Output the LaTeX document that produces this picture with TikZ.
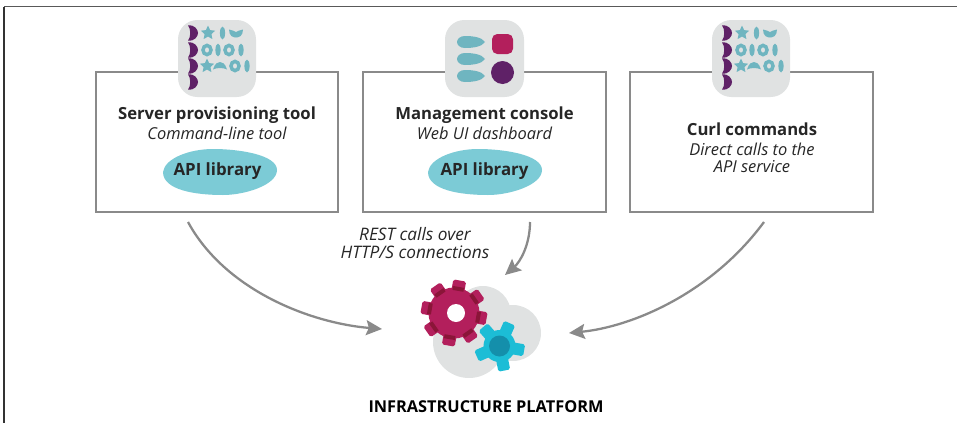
\documentclass[tikz,border=0pt]{standalone}
\usepackage{fontspec}
\setmainfont{Open Sans}
\usetikzlibrary{arrows.meta}
\definecolor{boxgray}{HTML}{8A8A8A}
\definecolor{blobgray}{HTML}{E0E2E2}
\definecolor{libteal}{HTML}{7CCBD6}
\definecolor{glyphteal}{HTML}{6FB5C0}
\definecolor{darkplum}{HTML}{5F2167}
\definecolor{gearred}{HTML}{B31F5C}
\definecolor{geardark}{HTML}{8A1538}
\definecolor{gearcyan}{HTML}{1CBDD6}
\definecolor{hubcyan}{HTML}{148FAB}
\tikzset{
  toolbox/.style={draw=boxgray, line width=1pt, fill=white},
  flow/.style={draw=boxgray, line width=1.3pt, -{Stealth[length=9pt,width=8.5pt,inset=1.5pt]}},
  titletext/.style={font=\bfseries\fontsize{9.5}{11}\selectfont, text=black!85},
  subtext/.style={font=\itshape\fontsize{9.35}{11}\selectfont, text=black!85, align=center},
  resttext/.style={font=\itshape\fontsize{9.8}{11}\selectfont, text=black!85, align=center},
  libtext/.style={font=\bfseries\fontsize{9.6}{11}\selectfont, text=black!85},
  % one crescent at the start of a row
  crescent/.pic={\fill[darkplum] (-4,-7.5) .. controls (3,-8.5) and (6,-3) .. (6,0) .. controls (6,3) and (3,8.5) .. (-4,7.5) .. controls (-1,4) and (-1,-4) .. (-4,-7.5) -- cycle;},
  starglyph/.pic={\fill[glyphteal] (-90:7.5) \foreach \a in {-54,-18,...,234} {-- (\a:{mod(round((\a+90)/36),2)==0 ? 7.5 : 3.6})} -- cycle;},
  barglyph/.pic={\fill[glyphteal] (0,0) ellipse (2.6 and 6.5);},
  ringglyph/.pic={\draw[glyphteal, line width=2pt] (0,0) ellipse (4 and 4.6);},
  smileglyph/.pic={\fill[glyphteal] (-7,-3.5) .. controls (-4,-3) and (-2,-2) .. (0,-1) .. controls (2,-2) and (4,-3) .. (7,-3.5) .. controls (7,3) and (3,4.5) .. (0,4.5) .. controls (-3,4.5) and (-7,3) .. (-7,-3.5) -- cycle;},
  frownglyph/.pic={\fill[glyphteal] (-7,3.5) .. controls (-5,-3) and (-2,-4) .. (0,-4) .. controls (2,-4) and (5,-3) .. (7,3.5) .. controls (3,1.5) and (-3,1.5) .. (-7,3.5) -- cycle;},
  % the gray tile with rows of code glyphs
  codeicon/.pic={
    \fill[blobgray, rounded corners=11pt] (0,0) rectangle (78,77);
    \foreach \y in {13,30,46,62} {\pic at (14,\y) {crescent};}
    \pic at (30,13) {starglyph}; \pic at (44.5,13) {barglyph}; \pic at (58,13) {smileglyph};
    \pic at (29,30) {ringglyph}; \pic at (40,30) {barglyph}; \pic at (51,30) {ringglyph}; \pic at (63,30) {barglyph};
    \pic at (29,46) {starglyph}; \pic at (42,46) {frownglyph}; \pic at (57,46) {ringglyph}; \pic at (69,46) {barglyph};
  },
  apiblob/.pic={\fill[libteal] (163,172) .. controls (165,158) and (190,149) .. (213,149) .. controls (240,149) and (277,155) .. (277,170) .. controls (277,185) and (245,195) .. (223,195) .. controls (195,195) and (163,190) .. (163,172) -- cycle;},
  gearred tooth/.pic={
    \fill[gearred, rounded corners=1pt] (18,-6.5) rectangle (33,6.5);
  },
  gearred seam/.pic={
    \fill[geardark] (22.5,-5.5) rectangle (26.5,5.5);
  },
  gearcyan tooth/.pic={
    \fill[gearcyan, rounded corners=1pt] (11,-6) rectangle (25,6);
  },
}
\begin{document}
\begin{tikzpicture}[x=0.02cm,y=-0.02cm]
    \useasboundingbox (0,0) rectangle (957,423);

    % Frame
    \draw[black!65, line width=0.9pt] (4,6.5) -- (957,6.5);
    \draw[black!80, line width=0.9pt] (4,6.5) -- (4,423);

    % Tools
    \draw[toolbox] (96,72) rectangle (338,212);
    \draw[toolbox] (363,72) rectangle (606,212);
    \draw[toolbox] (630,72) rectangle (873,212);

    % Icons
    \pic at (178,20) {codeicon};
    \pic at (712,20) {codeicon};
    \fill[blobgray, rounded corners=11pt] (445,20) rectangle (524,97);
    \foreach \y in {42,59,76} {
        \fill[glyphteal] (485,\y) .. controls (482,\y-5) and (472,\y-6) .. (465,\y-6) .. controls (460,\y-6) and (457,\y-3) .. (457,\y) .. controls (457,\y+3) and (460,\y+6) .. (465,\y+6) .. controls (472,\y+6) and (482,\y+5) .. (485,\y) -- cycle;
    }
    \fill[gearred, rounded corners=3pt] (492,34) rectangle (513,54);
    \fill[darkplum] (502.5,72.5) circle (11.5);

    % Labels
    \node[titletext] (provision) at (217,115) {Server provisioning tool};
    \node[subtext] (cmdline) at (217,133) {Command-line tool};
    \pic at (0,0) {apiblob};
    \node[libtext] (lib one) at (217.5,171) {API library};

    \node[titletext] (console) at (484.5,115) {Management console};
    \node[subtext] (webui) at (484.5,133) {Web UI dashboard};
    \pic at (265,0) {apiblob};
    \node[libtext] (lib two) at (484.5,171) {API library};

    \node[titletext] (curl) at (752,129) {Curl commands};
    \node[subtext] (direct) at (752,158) {Direct calls to the\\[-1pt]API service};

    \node[resttext] (rest) at (415,243) {REST calls over\\[-0.5pt]HTTP/S connections};

    % Platform
    \fill[blobgray] (469,342) circle (36);
    \fill[blobgray] (483,314) circle (28);
    \fill[blobgray] (513,333) circle (28);
    \fill[blobgray] (470,320) rectangle (510,355);

    \foreach \angle in {-10,35,...,305} {
        \pic[rotate=\angle] at (454,313) {gearred tooth};
    }
    \fill[gearred] (454,313) circle (25.5);
    \foreach \angle in {-10,35,...,305} {
        \pic[rotate=\angle] at (454,313) {gearred seam};
    }
    \fill[white] (456,313) circle (9);

    \foreach \angle in {-10,66,131,204,281} {
        \pic[rotate=\angle] at (499.5,346) {gearcyan tooth};
    }
    \fill[gearcyan] (499.5,346) circle (16);
    \fill[hubcyan] (499.5,346) circle (10.5);

    \node[font=\bfseries\fontsize{9.3}{11}\selectfont, text=black] (platform) at (486,407) {INFRASTRUCTURE PLATFORM};

    % Connections
    \coordinate (from provision) at (188,222);
    \coordinate (from console) at (530,222);
    \coordinate (from curl) at (764,222);
    \coordinate (to left) at (382,329);
    \coordinate (to top) at (505,275);
    \coordinate (to right) at (569,333);
    \draw[flow] (from provision) .. controls (225,290) and (310,323) .. (to left);
    \draw[flow] (from console) .. controls (530,245) and (520,262) .. (to top);
    \draw[flow] (from curl) .. controls (710,295) and (630,327) .. (to right);
\end{tikzpicture}
\end{document}
